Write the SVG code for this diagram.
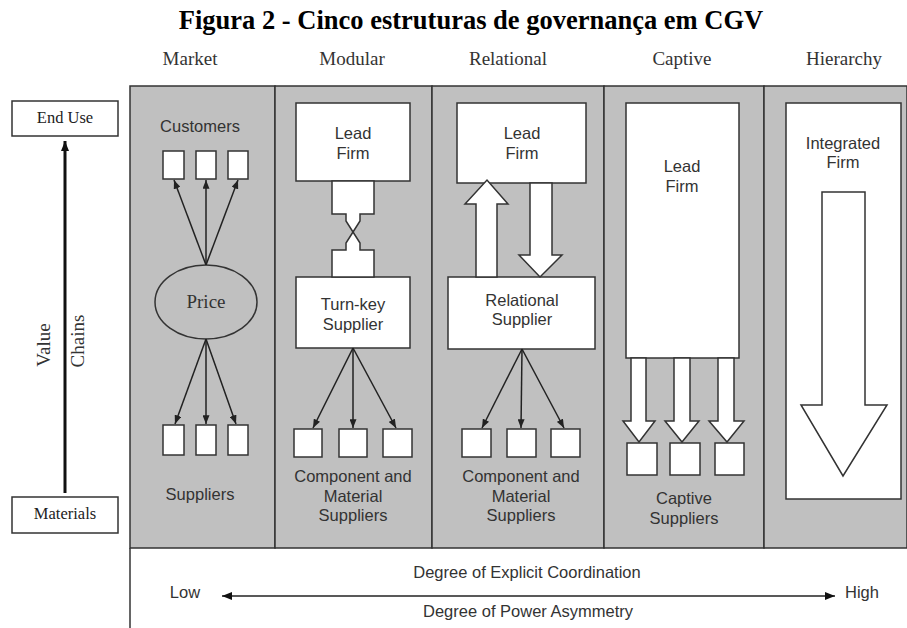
<svg xmlns="http://www.w3.org/2000/svg" width="907" height="628" viewBox="0 0 907 628">
  <style>
    .title { font-family: "Liberation Serif", "Times New Roman", serif; font-weight: bold; font-size: 26.5px; fill: #000; text-anchor: middle; }
    .head { font-family: "Liberation Serif", "Times New Roman", serif; font-size: 19px; fill: #333; text-anchor: middle; }
    .serif { font-family: "Liberation Serif", "Times New Roman", serif; font-size: 16.5px; fill: #222; text-anchor: middle; }
    .lbl { font-family: "Liberation Sans", Arial, sans-serif; font-size: 16.5px; fill: #333; text-anchor: middle; }
    .col { fill: #c0c0c0; stroke: #333; stroke-width: 1.5; }
    .box { fill: #fff; stroke: #333; stroke-width: 1.5; }
    .wide { fill: #fff; stroke: #333; stroke-width: 1.5; stroke-linejoin: miter; }
    .ln { fill: none; stroke: #222; stroke-width: 1.5; }
  </style>
  <defs>
    <marker id="tip" viewBox="0 0 10 8" refX="10" refY="4" markerWidth="9" markerHeight="7" markerUnits="userSpaceOnUse" orient="auto">
      <path d="M0,0 L10,4 L0,8 z" fill="#222"/>
    </marker>
    <marker id="tipBig" viewBox="0 0 10 8" refX="10" refY="4" markerWidth="11" markerHeight="8" markerUnits="userSpaceOnUse" orient="auto">
      <path d="M0,0 L10,4 L0,8 z" fill="#111"/>
    </marker>
  </defs>

  <rect width="907" height="628" fill="#fff"/>

  <!-- caption -->
  <text class="title" x="471" y="29">Figura 2 - Cinco estruturas de governança em CGV</text>

  <!-- column headings -->
  <g id="headings">
    <text class="head" x="190" y="65">Market</text>
    <text class="head" x="352" y="65">Modular</text>
    <text class="head" x="508" y="65">Relational</text>
    <text class="head" x="682" y="65">Captive</text>
    <text class="head" x="844" y="65">Hierarchy</text>
  </g>

  <!-- shaded columns -->
  <g id="columns">
    <rect class="col" x="130" y="86" width="145" height="462"/>
    <rect class="col" x="275" y="86" width="157" height="462"/>
    <rect class="col" x="432" y="86" width="172" height="462"/>
    <rect class="col" x="604" y="86" width="160" height="462"/>
    <rect class="col" x="764" y="86" width="143" height="462"/>
    <line x1="130" y1="548" x2="130" y2="628" stroke="#333" stroke-width="1.5"/>
  </g>

  <!-- value chain axis -->
  <g id="end-use">
    <rect class="box" x="12" y="101" width="106" height="35"/>
    <text class="serif" x="65" y="123">End Use</text>
  </g>
  <g id="materials">
    <rect class="box" x="12" y="497" width="106" height="36"/>
    <text class="serif" x="65" y="519">Materials</text>
  </g>
  <g id="value-chains">
    <text class="head" transform="translate(50,345) rotate(-90)">Value</text>
    <text class="head" transform="translate(84,341) rotate(-90)">Chains</text>
  </g>

  <!-- Market -->
  <g id="customers">
    <text class="lbl" x="200" y="132">Customers</text>
    <rect class="box" x="163" y="151" width="21" height="28"/>
    <rect class="box" x="196" y="151" width="20" height="28"/>
    <rect class="box" x="228" y="151" width="20" height="28"/>
  </g>
  <g id="price">
    <ellipse class="col" cx="206" cy="302" rx="51" ry="37"/>
    <text class="head" x="206" y="308">Price</text>
  </g>
  <g id="market-suppliers">
    <rect class="box" x="163" y="425" width="21" height="30"/>
    <rect class="box" x="196" y="425" width="20" height="30"/>
    <rect class="box" x="228" y="425" width="20" height="30"/>
    <text class="lbl" x="200" y="500">Suppliers</text>
  </g>

  <!-- Modular -->
  <g id="modular-lead-firm">
    <rect class="box" x="296" y="103" width="114" height="78"/>
    <text class="lbl" x="353" y="139">Lead</text>
    <text class="lbl" x="353" y="159">Firm</text>
  </g>
  <g id="turn-key-supplier">
    <rect class="box" x="296" y="277" width="114" height="71"/>
    <text class="lbl" x="353" y="310">Turn-key</text>
    <text class="lbl" x="353" y="330">Supplier</text>
  </g>
  <g id="modular-suppliers">
    <rect class="box" x="294" y="429" width="28" height="28"/>
    <rect class="box" x="339" y="429" width="28" height="28"/>
    <rect class="box" x="383" y="429" width="29" height="28"/>
    <text class="lbl" x="353" y="482">Component and</text>
    <text class="lbl" x="353" y="502">Material</text>
    <text class="lbl" x="353" y="521">Suppliers</text>
  </g>

  <!-- Relational -->
  <g id="relational-lead-firm">
    <rect class="box" x="457" y="103" width="129" height="80"/>
    <text class="lbl" x="522" y="139">Lead</text>
    <text class="lbl" x="522" y="159">Firm</text>
  </g>
  <g id="relational-supplier">
    <rect class="box" x="448" y="277" width="147" height="72"/>
    <text class="lbl" x="522" y="306">Relational</text>
    <text class="lbl" x="522" y="325">Supplier</text>
  </g>
  <g id="relational-suppliers">
    <rect class="box" x="462" y="429" width="29" height="28"/>
    <rect class="box" x="507" y="429" width="29" height="28"/>
    <rect class="box" x="551" y="429" width="29" height="28"/>
    <text class="lbl" x="521" y="482">Component and</text>
    <text class="lbl" x="521" y="502">Material</text>
    <text class="lbl" x="521" y="521">Suppliers</text>
  </g>

  <!-- Captive -->
  <g id="captive-lead-firm">
    <rect class="box" x="626" y="103" width="113" height="255"/>
    <text class="lbl" x="682" y="172">Lead</text>
    <text class="lbl" x="682" y="192">Firm</text>
  </g>
  <g id="captive-suppliers">
    <rect class="box" x="627" y="443" width="30" height="32"/>
    <rect class="box" x="670" y="443" width="30" height="32"/>
    <rect class="box" x="715" y="443" width="29" height="32"/>
    <text class="lbl" x="684" y="504">Captive</text>
    <text class="lbl" x="684" y="524">Suppliers</text>
  </g>

  <!-- Hierarchy -->
  <g id="integrated-firm">
    <rect class="box" x="786" y="103" width="115" height="396"/>
    <text class="lbl" x="843" y="149">Integrated</text>
    <text class="lbl" x="843" y="168">Firm</text>
  </g>

  <!-- connectors -->
  <g id="connectors">
    <line x1="65" y1="493" x2="65" y2="141" stroke="#111" stroke-width="3" marker-end="url(#tipBig)"/>

    <line class="ln" x1="206" y1="265" x2="174" y2="180" marker-end="url(#tip)"/>
    <line class="ln" x1="206" y1="265" x2="206" y2="180" marker-end="url(#tip)"/>
    <line class="ln" x1="206" y1="265" x2="238" y2="180" marker-end="url(#tip)"/>
    <line class="ln" x1="206" y1="339" x2="175" y2="424" marker-end="url(#tip)"/>
    <line class="ln" x1="206" y1="339" x2="206" y2="424" marker-end="url(#tip)"/>
    <line class="ln" x1="206" y1="339" x2="236" y2="424" marker-end="url(#tip)"/>

    <polygon class="wide" points="332,181 374,181 374,214 360,214 360,221 353,232 346,221 346,214 332,214"/>
    <polygon class="wide" points="332,277 374,277 374,250 360,250 360,243 353,232 346,243 346,250 332,250"/>

    <line class="ln" x1="353" y1="348" x2="313" y2="428" marker-end="url(#tip)"/>
    <line class="ln" x1="353" y1="348" x2="353" y2="428" marker-end="url(#tip)"/>
    <line class="ln" x1="353" y1="348" x2="396" y2="428" marker-end="url(#tip)"/>

    <polygon class="wide" points="476,277 476,204 465,204 487,180 508,204 497,204 497,277"/>
    <polygon class="wide" points="530,183 530,255 519,255 540,277 562,255 552,255 552,183"/>

    <line class="ln" x1="522" y1="349" x2="482" y2="428" marker-end="url(#tip)"/>
    <line class="ln" x1="522" y1="349" x2="521" y2="428" marker-end="url(#tip)"/>
    <line class="ln" x1="522" y1="349" x2="564" y2="428" marker-end="url(#tip)"/>

    <polygon class="wide" points="631,358 631,421 623,421 639,442 655,421 646,421 646,358"/>
    <polygon class="wide" points="674,358 674,421 665,421 682,442 699,421 690,421 690,358"/>
    <polygon class="wide" points="718,358 718,421 709,421 727,442 744,421 734,421 734,358"/>

    <polygon class="wide" points="822,192 865,192 865,405 887,405 843,476 801,405 822,405"/>

    <line x1="520" y1="596" x2="222" y2="596" stroke="#222" stroke-width="1.5" marker-end="url(#tipBig)"/>
    <line x1="520" y1="596" x2="835" y2="596" stroke="#222" stroke-width="1.5" marker-end="url(#tipBig)"/>
  </g>

  <!-- coordination scale -->
  <g id="scale">
    <text class="lbl" x="527" y="578">Degree of Explicit Coordination</text>
    <text class="lbl" x="528" y="617">Degree of Power Asymmetry</text>
    <text class="lbl" x="185" y="598">Low</text>
    <text class="lbl" x="862" y="598">High</text>
  </g>
</svg>
